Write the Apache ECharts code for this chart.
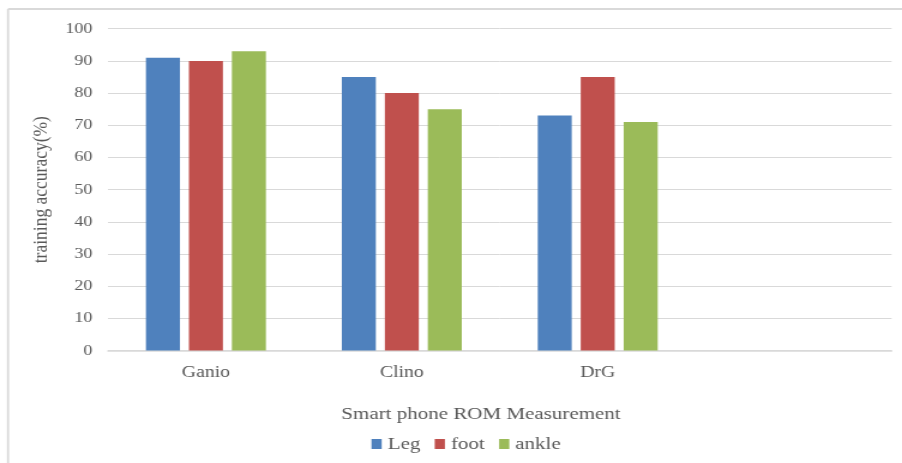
<!DOCTYPE html>
<html>
<head>
<meta charset="utf-8">
<script src="https://cdn.jsdelivr.net/npm/echarts@6/dist/echarts.min.js"></script>
<style>
  html, body { margin: 0; padding: 0; background: #fff; overflow: hidden; }
  /* The chart is laid out at 752px and widened to the 902px page,
     which gives the serif lettering its broad, stretched look. */
  #chart { width: 752px; height: 463px; transform: scaleX(1.19947); transform-origin: 0 0; }
</style>
</head>
<body>
<div id="chart"></div>
<script>
// Categories (the fourth slot is left empty, as in the original layout)
const categories = ['Ganio', 'Clino', 'DrG', ''];
const legValues = [91, 85, 73, null];
const footValues = [90, 80, 85, null];
const ankleValues = [93, 75, 71, null];
const yTicks = { min: 0, max: 100, interval: 10 };

const FONT = '"Liberation Serif", "Times New Roman", serif';
const TEXT = '#595959';

const chart = echarts.init(document.getElementById('chart'));
chart.setOption({
  animation: false,
  backgroundColor: '#fff',
  textStyle: { fontFamily: FONT },
  grid: { left: 90, right: 8.7, top: 28.7, bottom: 112.4, containLabel: false },
  title: {
    text: 'Smart phone ROM Measurement',
    left: 396, top: 400,
    textAlign: 'center',
    textStyle: { fontFamily: FONT, fontSize: 17.5, fontWeight: 'normal', color: TEXT }
  },
  legend: {
    data: ['Leg', 'foot', 'ankle'],
    left: 309.7, top: 435, padding: 0,
    itemWidth: 8.5, itemHeight: 10, itemGap: 12,
    icon: 'rect',
    textStyle: { fontFamily: FONT, fontSize: 17.5, color: TEXT }
  },
  xAxis: {
    type: 'category',
    data: categories,
    axisLine: { lineStyle: { color: '#d9d9d9', width: 1.5 } },
    axisTick: { show: false },
    axisLabel: { fontFamily: FONT, fontSize: 16.5, color: TEXT, margin: 14 }
  },
  yAxis: {
    type: 'value',
    min: yTicks.min, max: yTicks.max, interval: yTicks.interval,
    name: 'training accuracy(%)',
    nameLocation: 'middle',
    nameRotate: 90,
    nameGap: 32,
    nameTextStyle: { fontFamily: FONT, fontSize: 17.5, color: TEXT },
    axisLine: { show: false },
    axisTick: { show: false },
    axisLabel: { fontFamily: FONT, fontSize: 15, color: TEXT, margin: 13 },
    splitLine: { lineStyle: { color: '#d9d9d9', width: 1 } }
  },
  series: [
    { name: 'Leg', type: 'bar', data: legValues, barWidth: 28.33, barGap: '26.5%', itemStyle: { color: '#4f81bd' } },
    { name: 'foot', type: 'bar', data: footValues, barWidth: 28.33, itemStyle: { color: '#c0504d' } },
    { name: 'ankle', type: 'bar', data: ankleValues, barWidth: 28.33, itemStyle: { color: '#9bbb59' } }
  ],
  graphic: [
    { type: 'line', shape: { x1: 6.7, y1: 9, x2: 752, y2: 9 }, style: { stroke: '#d9d9d9', lineWidth: 2 } },
    { type: 'line', shape: { x1: 6.7, y1: 9, x2: 6.7, y2: 463 }, style: { stroke: '#d9d9d9', lineWidth: 1.7 } }
  ]
});
</script>
</body>
</html>
